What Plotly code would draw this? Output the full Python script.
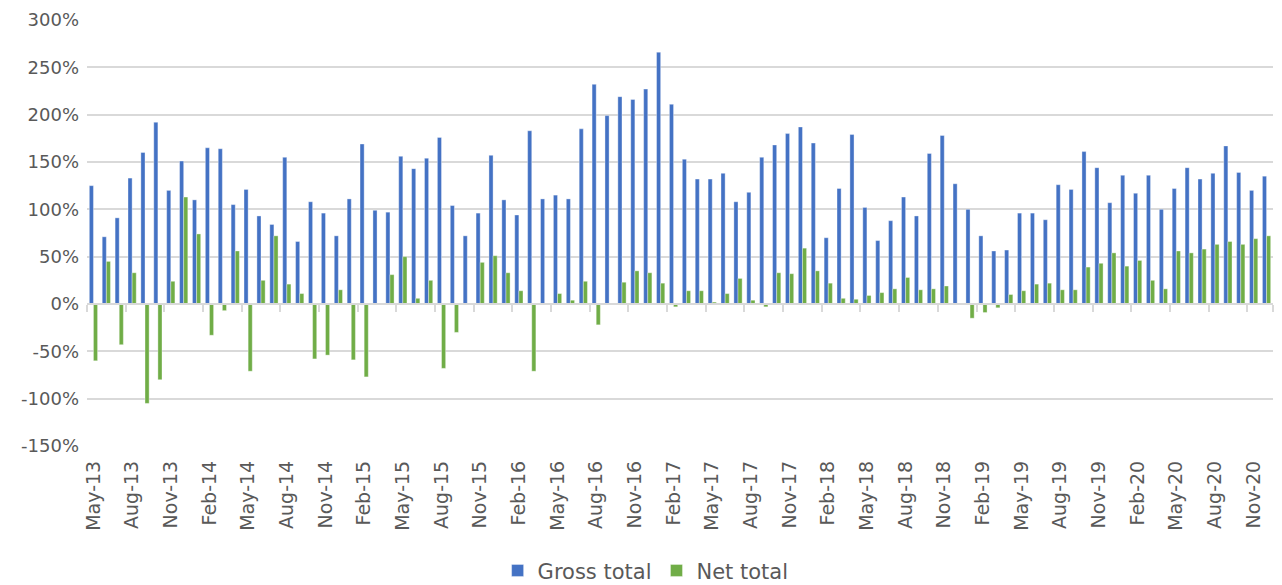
import plotly.graph_objects as go

months = []
mnames = ["Jan","Feb","Mar","Apr","May","Jun","Jul","Aug","Sep","Oct","Nov","Dec"]
for y in range(13, 21):
    for m in range(12):
        if y == 13 and m < 4:
            continue
        months.append(f"{mnames[m]}-{y}")

gross_total = [
    125, 71, 91, 133, 160, 192, 120, 151, 110, 165, 164, 105, 121, 93, 84,
    155, 66, 108, 96, 72, 111, 169, 99, 97, 156, 143, 154, 176, 104, 72,
    96, 157, 110, 94, 183, 111, 115, 111, 185, 232, 199, 219, 216, 227, 266,
    211, 153, 132, 132, 138, 108, 118, 155, 168, 180, 187, 170, 70, 122, 179,
    102, 67, 88, 113, 93, 159, 178, 127, 100, 72, 56, 57, 96, 96, 89,
    126, 121, 161, 144, 107, 136, 117, 136, 100, 122, 144, 132, 138, 167, 139,
    120, 135,
]
net_total = [
    -60, 45, -43, 33, -105, -80, 24, 113, 74, -33, -7, 56, -71, 25, 72,
    21, 11, -58, -54, 15, -59, -77, 1, 31, 50, 6, 25, -68, -30, 0,
    44, 51, 33, 14, -71, 0, 11, 4, 24, -22, 0, 23, 35, 33, 22,
    -3, 14, 14, 2, 11, 27, 4, -3, 33, 32, 59, 35, 22, 6, 5,
    9, 12, 16, 28, 15, 16, 19, 0, -15, -9, -4, 10, 14, 21, 22,
    15, 15, 39, 43, 54, 40, 46, 25, 16, 56, 54, 58, 63, 66, 63,
    69, 72,
]

tick_labels = months[::3]
idx = list(range(len(months)))
boundary_ticks = [i - 0.5 for i in idx[::3]] + [len(months) - 0.5]

FONT = "DejaVu Sans"
GRID = "#d9d9d9"
TXT = "#595959"

fig = go.Figure()
fig.add_trace(go.Bar(x=months, y=gross_total, name="Gross total",
                     marker=dict(color="#4472C4", line=dict(color="rgba(255,255,255,0.6)", width=0.6))))
fig.add_trace(go.Bar(x=months, y=net_total, name="Net total",
                     marker=dict(color="#70AD47", line=dict(color="rgba(255,255,255,0.6)", width=0.6))))
# helper trace for the tick-mark axis drawn on the zero line
fig.add_trace(go.Scatter(x=idx, y=[0] * len(idx), xaxis="x2", mode="lines",
                         line=dict(width=0, color="rgba(0,0,0,0)"),
                         hoverinfo="skip", showlegend=False))

fig.update_layout(
    width=1282, height=585,
    paper_bgcolor="white", plot_bgcolor="white",
    margin=dict(l=87, r=9, t=20, b=139, autoexpand=False),
    barmode="group", bargap=0.36, bargroupgap=0.0,
    font=dict(family=FONT, size=18, color=TXT),
    xaxis=dict(type="category", categoryorder="array", categoryarray=months,
               range=[-0.5, len(months) - 0.5], automargin=False,
               tickmode="array", tickvals=tick_labels, ticktext=tick_labels,
               tickangle=-90, ticks="", showgrid=False, showline=False,
               zeroline=False, tickfont=dict(family=FONT, size=19, color=TXT),
               ticklabelstandoff=10),
    xaxis2=dict(type="linear", overlaying="x", anchor="free", position=1/3,
                range=[-0.5, len(months) - 0.5], showgrid=False, zeroline=False,
                automargin=False,
                showline=True, linecolor=GRID, linewidth=1.5,
                tickmode="array", tickvals=boundary_ticks, ticks="outside",
                ticklen=7, tickwidth=1.5, tickcolor=GRID, showticklabels=False),
    yaxis=dict(range=[-150, 300], tickmode="array", automargin=False,
               tickvals=[-150, -100, -50, 0, 50, 100, 150, 200, 250, 300],
               ticktext=["-150%", "-100%", "-50%", "0%", "50%", "100%", "150%", "200%", "250%", "300%"],
               showgrid=True, gridcolor=GRID, gridwidth=1.5, zeroline=False,
               showline=False, ticks="", ticklabelstandoff=7,
               tickfont=dict(family=FONT, size=18, color=TXT)),
    legend=dict(orientation="h", x=0.471, xanchor="center", y=-0.293, yanchor="middle",
                font=dict(family=FONT, size=21, color=TXT),
                itemwidth=30, traceorder="normal", tracegroupgap=0),
    showlegend=True,
)

fig.write_html("out.html",
               config={"displayModeBar": False},
               post_script="document.body.style.margin='0';document.body.style.overflow='hidden';")
